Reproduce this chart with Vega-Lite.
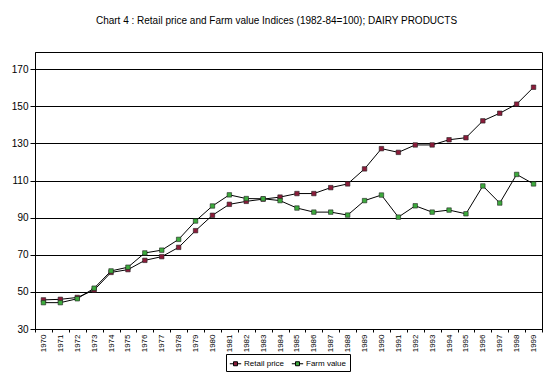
{
  "$schema": "https://vega.github.io/schema/vega-lite/v6.json",
  "autosize": "none",
  "width": 507,
  "height": 277,
  "padding": {"left": 35, "top": 52, "right": 10, "bottom": 49},
  "background": "white",
  "title": {
    "text": "Chart 4 : Retail price and Farm value Indices (1982-84=100); DAIRY PRODUCTS",
    "font": "Liberation Sans",
    "fontSize": 10,
    "fontWeight": "normal",
    "color": "black",
    "anchor": "middle",
    "dx": -12,
    "offset": 26
  },
  "config": {
    "view": {"stroke": "black", "strokeWidth": 1},
    "axis": {"domainColor": "black", "tickColor": "black", "labelColor": "black", "labelFont": "Liberation Sans", "titleFont": "Liberation Sans"}
  },
  "data": {
    "values": [
      {"year": "1970", "series": "Retail price", "value": 45.7},
      {"year": "1971", "series": "Retail price", "value": 46},
      {"year": "1972", "series": "Retail price", "value": 47},
      {"year": "1973", "series": "Retail price", "value": 51},
      {"year": "1974", "series": "Retail price", "value": 60.5},
      {"year": "1975", "series": "Retail price", "value": 62},
      {"year": "1976", "series": "Retail price", "value": 67},
      {"year": "1977", "series": "Retail price", "value": 69},
      {"year": "1978", "series": "Retail price", "value": 74},
      {"year": "1979", "series": "Retail price", "value": 83},
      {"year": "1980", "series": "Retail price", "value": 91.3},
      {"year": "1981", "series": "Retail price", "value": 97.2},
      {"year": "1982", "series": "Retail price", "value": 98.8},
      {"year": "1983", "series": "Retail price", "value": 100},
      {"year": "1984", "series": "Retail price", "value": 101.1},
      {"year": "1985", "series": "Retail price", "value": 103},
      {"year": "1986", "series": "Retail price", "value": 103},
      {"year": "1987", "series": "Retail price", "value": 106.2},
      {"year": "1988", "series": "Retail price", "value": 108.2},
      {"year": "1989", "series": "Retail price", "value": 116.3},
      {"year": "1990", "series": "Retail price", "value": 127.2},
      {"year": "1991", "series": "Retail price", "value": 125.2},
      {"year": "1992", "series": "Retail price", "value": 129.2},
      {"year": "1993", "series": "Retail price", "value": 129.2},
      {"year": "1994", "series": "Retail price", "value": 132},
      {"year": "1995", "series": "Retail price", "value": 133.1},
      {"year": "1996", "series": "Retail price", "value": 142.2},
      {"year": "1997", "series": "Retail price", "value": 146.3},
      {"year": "1998", "series": "Retail price", "value": 151.2},
      {"year": "1999", "series": "Retail price", "value": 160.3},
      {"year": "1970", "series": "Farm value", "value": 44.2},
      {"year": "1971", "series": "Farm value", "value": 44.2},
      {"year": "1972", "series": "Farm value", "value": 46.3},
      {"year": "1973", "series": "Farm value", "value": 52},
      {"year": "1974", "series": "Farm value", "value": 61.3},
      {"year": "1975", "series": "Farm value", "value": 63.3},
      {"year": "1976", "series": "Farm value", "value": 71},
      {"year": "1977", "series": "Farm value", "value": 72.5},
      {"year": "1978", "series": "Farm value", "value": 78.3},
      {"year": "1979", "series": "Farm value", "value": 88.2},
      {"year": "1980", "series": "Farm value", "value": 96.3},
      {"year": "1981", "series": "Farm value", "value": 102.3},
      {"year": "1982", "series": "Farm value", "value": 100.3},
      {"year": "1983", "series": "Farm value", "value": 100.2},
      {"year": "1984", "series": "Farm value", "value": 99.2},
      {"year": "1985", "series": "Farm value", "value": 95.2},
      {"year": "1986", "series": "Farm value", "value": 93},
      {"year": "1987", "series": "Farm value", "value": 93},
      {"year": "1988", "series": "Farm value", "value": 91.4},
      {"year": "1989", "series": "Farm value", "value": 99.2},
      {"year": "1990", "series": "Farm value", "value": 102.2},
      {"year": "1991", "series": "Farm value", "value": 90.3},
      {"year": "1992", "series": "Farm value", "value": 96.4},
      {"year": "1993", "series": "Farm value", "value": 93},
      {"year": "1994", "series": "Farm value", "value": 94.1},
      {"year": "1995", "series": "Farm value", "value": 92.1},
      {"year": "1996", "series": "Farm value", "value": 107.1},
      {"year": "1997", "series": "Farm value", "value": 97.9},
      {"year": "1998", "series": "Farm value", "value": 113.3},
      {"year": "1999", "series": "Farm value", "value": 108.2}
    ]
  },
  "encoding": {
    "x": {
      "field": "year",
      "type": "ordinal",
      "scale": {"paddingInner": 0, "paddingOuter": 0},
      "axis": {
        "title": null,
        "labelAngle": 270,
        "labelFontSize": 8,
        "labelPadding": 2,
        "tickSize": 3,
        "tickBand": "extent",
        "domainColor": "black"
      }
    },
    "y": {
      "field": "value",
      "type": "quantitative",
      "scale": {"domain": [30, 179.3], "nice": false, "zero": false},
      "axis": {
        "title": null,
        "values": [30, 50, 70, 90, 110, 130, 150, 170],
        "grid": true,
        "gridColor": "black",
        "gridOpacity": 1,
        "gridWidth": 1,
        "labelFontSize": 10,
        "labelPadding": 2,
        "tickSize": 5
      }
    }
  },
  "layer": [
    {
      "mark": {"type": "line", "color": "black", "strokeWidth": 1},
      "encoding": {"detail": {"field": "series"}}
    },
    {
      "mark": {"type": "point", "shape": "square", "filled": true, "size": 20, "stroke": "#222222", "strokeWidth": 0.6, "opacity": 1},
      "encoding": {
        "fill": {
          "field": "series",
          "type": "nominal",
          "scale": {"domain": ["Retail price", "Farm value"], "range": ["#8B1C3A", "#3DAA3D"]},
          "legend": {
            "title": null,
            "orient": "none",
            "direction": "horizontal",
            "legendX": 191,
            "legendY": 302,
            "symbolType": "M-1,0L-0.35,0M0.35,0L1,0M-0.35,-0.35L0.35,-0.35L0.35,0.35L-0.35,0.35Z",
            "symbolSize": 130,
            "symbolStrokeColor": "black",
            "symbolStrokeWidth": 1,
            "labelFont": "Liberation Sans",
            "labelFontSize": 8,
            "labelColor": "black",
            "labelOffset": 2,
            "columnPadding": 4,
            "strokeColor": "black",
            "padding": 3,
            "fillColor": "white"
          }
        }
      }
    }
  ]
}
